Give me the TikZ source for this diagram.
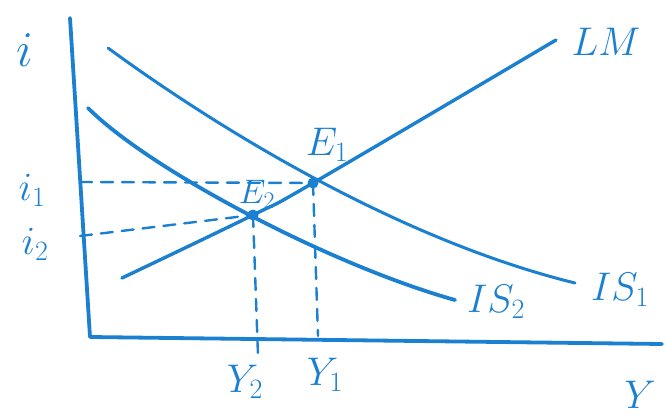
\RequirePackage{fix-cm}
\documentclass[tikz,border=0pt]{standalone}
\begin{document}
\begin{tikzpicture}[x=1pt,y=-1pt,
  ink/.style={draw=inkblue,line width=3.4pt,line cap=round,line join=round},
  guide/.style={draw=inkblue,line width=2.4pt,dash pattern=on 12pt off 9pt,line cap=round},
  lbl/.style={text=inkblue,inner sep=0pt,font=\fontsize{40}{40}\selectfont}]
\definecolor{inkblue}{RGB}{28,128,208}
\useasboundingbox (0,0) rectangle (666,415);
% axes
\coordinate (top) at (70,18);
\coordinate (O) at (90,337);
\coordinate (xend) at (662,344);
\draw[ink,line width=3.8pt] (top) -- (O) -- (xend);
% equilibria
\coordinate (E1) at (313,183);
\coordinate (E2) at (253,215);
% LM
\coordinate (lm0) at (122,278);
\coordinate (lm1) at (556,40);
\draw[ink] plot[smooth,tension=0.6] coordinates {(lm0) (E2) (E1) (lm1)};
% IS1
\coordinate (is1a) at (108,48);
\coordinate (is1b) at (575,283);
\draw[ink,line width=3pt] (is1a) .. controls (220,130) and (400,240) .. (is1b);
% IS2
\coordinate (is2a) at (88,108);
\coordinate (is2b) at (455,300);
\draw[ink,line width=3.8pt] (is2a) .. controls (150,170) and (330,265) .. (is2b);
% dashed guides
\coordinate (i1l) at (80,182);
\coordinate (i2l) at (80,236);
\coordinate (y1b) at (318,336);
\coordinate (y2b) at (258,356);
\draw[guide] (i1l) -- (E1);
\draw[guide] (i2l) -- (E2);
\draw[guide] (E1) -- (y1b);
\draw[guide] (E2) -- (y2b);
\fill[inkblue] (E1) circle (5.5pt);
\fill[inkblue] (E2) circle (5.5pt);
% labels
\node[lbl,font=\fontsize{50}{50}\selectfont] (li) at (25,50) {$i$};
\node[lbl] (li1) at (32,190) {$i_1$};
\node[lbl] (li2) at (35,244) {$i_2$};
\node[lbl] (lY2) at (245,382) {$Y_2$};
\node[lbl] (lY1) at (325,375) {$Y_1$};
\node[lbl] (lY) at (640,395) {$Y$};
\node[lbl] (lE1) at (327,145) {$E_1$};
\node[lbl,font=\fontsize{34}{34}\selectfont] (lE2) at (257,194) {$E_2$};
\node[lbl] (lLM) at (606,42) {$LM$};
\node[lbl] (lIS1) at (620,290) {$IS_1$};
\node[lbl] (lIS2) at (496,302) {$IS_2$};
\end{tikzpicture}
\end{document}
